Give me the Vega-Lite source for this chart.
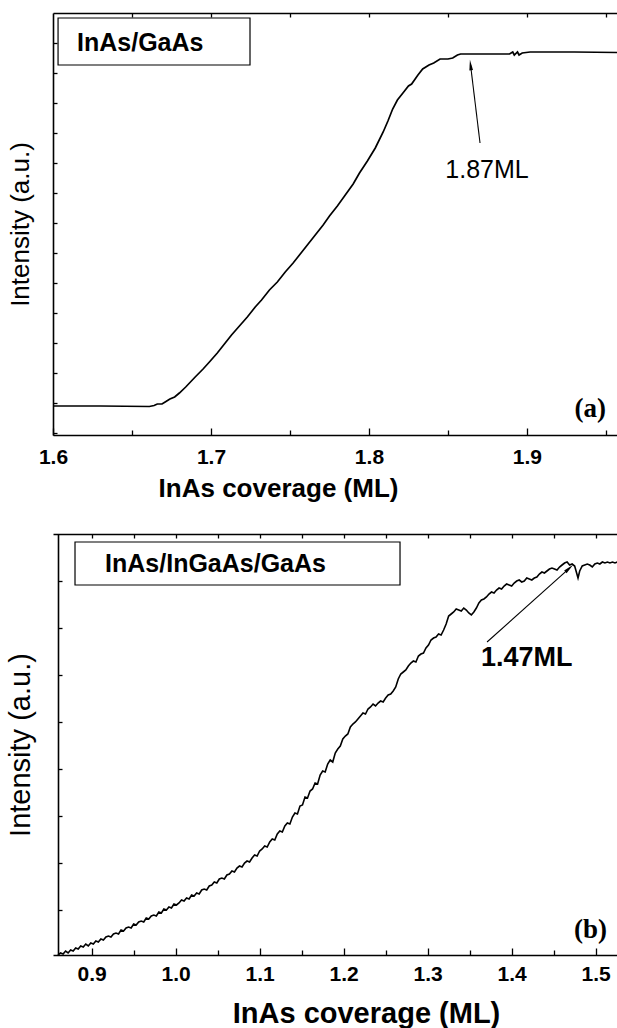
{
  "$schema": "https://vega.github.io/schema/vega-lite/v6.json",
  "padding": {"left": 6, "top": 12, "right": 0, "bottom": 0},
  "background": "white",
  "config": {
    "view": {"stroke": null},
    "font": "Liberation Sans",
    "axis": {"domainColor": "black", "domainWidth": 1.6, "tickColor": "black", "tickWidth": 1.3, "grid": false, "labelColor": "black", "titleColor": "black"}
  },
  "datasets": {
    "a": [
      {"x": 1.600, "y": 29}, {"x": 1.630, "y": 29}, {"x": 1.661, "y": 28.5}, {"x": 1.664, "y": 29.5}, {"x": 1.666, "y": 31},
      {"x": 1.669, "y": 31}, {"x": 1.671, "y": 33}, {"x": 1.674, "y": 36}, {"x": 1.677, "y": 38}, {"x": 1.680, "y": 42},
      {"x": 1.684, "y": 48}, {"x": 1.690, "y": 58}, {"x": 1.695, "y": 66}, {"x": 1.699, "y": 73}, {"x": 1.704, "y": 82},
      {"x": 1.709, "y": 92}, {"x": 1.713, "y": 100}, {"x": 1.718, "y": 109}, {"x": 1.723, "y": 118}, {"x": 1.728, "y": 128},
      {"x": 1.732, "y": 135}, {"x": 1.737, "y": 145}, {"x": 1.742, "y": 153}, {"x": 1.747, "y": 163}, {"x": 1.752, "y": 172},
      {"x": 1.756, "y": 180}, {"x": 1.761, "y": 190}, {"x": 1.766, "y": 200}, {"x": 1.771, "y": 210}, {"x": 1.775, "y": 219},
      {"x": 1.780, "y": 229}, {"x": 1.785, "y": 240}, {"x": 1.790, "y": 251}, {"x": 1.794, "y": 262}, {"x": 1.799, "y": 274},
      {"x": 1.804, "y": 287}, {"x": 1.809, "y": 303}, {"x": 1.812, "y": 314}, {"x": 1.815, "y": 326}, {"x": 1.818, "y": 335},
      {"x": 1.822, "y": 343}, {"x": 1.825, "y": 349}, {"x": 1.827, "y": 351}, {"x": 1.831, "y": 360}, {"x": 1.834, "y": 366},
      {"x": 1.838, "y": 370}, {"x": 1.841, "y": 372}, {"x": 1.845, "y": 376}, {"x": 1.850, "y": 376}, {"x": 1.853, "y": 377},
      {"x": 1.856, "y": 380}, {"x": 1.858, "y": 381}, {"x": 1.870, "y": 381}, {"x": 1.889, "y": 381}, {"x": 1.891, "y": 383},
      {"x": 1.892, "y": 380}, {"x": 1.894, "y": 383}, {"x": 1.895, "y": 380}, {"x": 1.897, "y": 382}, {"x": 1.902, "y": 383},
      {"x": 1.930, "y": 383}, {"x": 1.957, "y": 382.5}
    ],
    "b": [
      {"x": 0.860, "y": 0}, {"x": 0.863, "y": 2}, {"x": 0.866, "y": 1}, {"x": 0.869, "y": 4}, {"x": 0.872, "y": 2},
      {"x": 0.875, "y": 5}, {"x": 0.878, "y": 4}, {"x": 0.881, "y": 7}, {"x": 0.884, "y": 6}, {"x": 0.887, "y": 9},
      {"x": 0.890, "y": 8}, {"x": 0.893, "y": 11}, {"x": 0.896, "y": 9}, {"x": 0.899, "y": 12}, {"x": 0.902, "y": 11},
      {"x": 0.905, "y": 14}, {"x": 0.908, "y": 13}, {"x": 0.911, "y": 16}, {"x": 0.914, "y": 15}, {"x": 0.917, "y": 18},
      {"x": 0.920, "y": 19}, {"x": 0.923, "y": 18}, {"x": 0.926, "y": 21}, {"x": 0.929, "y": 22}, {"x": 0.932, "y": 21},
      {"x": 0.935, "y": 25}, {"x": 0.938, "y": 24}, {"x": 0.941, "y": 27}, {"x": 0.944, "y": 28}, {"x": 0.947, "y": 27},
      {"x": 0.950, "y": 31}, {"x": 0.953, "y": 30}, {"x": 0.956, "y": 33}, {"x": 0.959, "y": 34}, {"x": 0.962, "y": 33},
      {"x": 0.965, "y": 37}, {"x": 0.968, "y": 36}, {"x": 0.971, "y": 39}, {"x": 0.974, "y": 40}, {"x": 0.977, "y": 39},
      {"x": 0.980, "y": 43}, {"x": 0.983, "y": 42}, {"x": 0.986, "y": 46}, {"x": 0.989, "y": 45}, {"x": 0.992, "y": 48},
      {"x": 0.995, "y": 47}, {"x": 0.998, "y": 51}, {"x": 1.001, "y": 50}, {"x": 1.004, "y": 52}, {"x": 1.007, "y": 55},
      {"x": 1.010, "y": 54}, {"x": 1.013, "y": 57}, {"x": 1.016, "y": 56}, {"x": 1.019, "y": 60}, {"x": 1.022, "y": 59},
      {"x": 1.025, "y": 62}, {"x": 1.028, "y": 61}, {"x": 1.031, "y": 65}, {"x": 1.034, "y": 66}, {"x": 1.037, "y": 65},
      {"x": 1.040, "y": 69}, {"x": 1.043, "y": 70}, {"x": 1.046, "y": 73}, {"x": 1.049, "y": 72}, {"x": 1.052, "y": 76},
      {"x": 1.055, "y": 77}, {"x": 1.058, "y": 76}, {"x": 1.061, "y": 80}, {"x": 1.064, "y": 81}, {"x": 1.067, "y": 84},
      {"x": 1.070, "y": 83}, {"x": 1.073, "y": 87}, {"x": 1.076, "y": 89}, {"x": 1.079, "y": 88}, {"x": 1.082, "y": 92},
      {"x": 1.085, "y": 94}, {"x": 1.088, "y": 93}, {"x": 1.091, "y": 97}, {"x": 1.094, "y": 100}, {"x": 1.097, "y": 99},
      {"x": 1.100, "y": 104}, {"x": 1.103, "y": 106}, {"x": 1.106, "y": 109}, {"x": 1.109, "y": 108}, {"x": 1.112, "y": 113},
      {"x": 1.115, "y": 116}, {"x": 1.118, "y": 115}, {"x": 1.121, "y": 121}, {"x": 1.124, "y": 124}, {"x": 1.127, "y": 123},
      {"x": 1.130, "y": 129}, {"x": 1.133, "y": 132}, {"x": 1.136, "y": 131}, {"x": 1.139, "y": 138}, {"x": 1.142, "y": 142},
      {"x": 1.145, "y": 141}, {"x": 1.148, "y": 149}, {"x": 1.151, "y": 150}, {"x": 1.154, "y": 158}, {"x": 1.157, "y": 157},
      {"x": 1.160, "y": 164}, {"x": 1.163, "y": 166}, {"x": 1.166, "y": 172}, {"x": 1.169, "y": 171}, {"x": 1.172, "y": 180},
      {"x": 1.175, "y": 184}, {"x": 1.178, "y": 183}, {"x": 1.181, "y": 191}, {"x": 1.184, "y": 195}, {"x": 1.187, "y": 193},
      {"x": 1.190, "y": 202}, {"x": 1.193, "y": 206}, {"x": 1.196, "y": 209}, {"x": 1.199, "y": 216}, {"x": 1.202, "y": 219},
      {"x": 1.205, "y": 221}, {"x": 1.208, "y": 228}, {"x": 1.211, "y": 231}, {"x": 1.214, "y": 233}, {"x": 1.217, "y": 236},
      {"x": 1.220, "y": 239}, {"x": 1.223, "y": 242}, {"x": 1.226, "y": 241}, {"x": 1.229, "y": 246}, {"x": 1.232, "y": 248},
      {"x": 1.235, "y": 251}, {"x": 1.238, "y": 249}, {"x": 1.241, "y": 252}, {"x": 1.244, "y": 254}, {"x": 1.247, "y": 253},
      {"x": 1.250, "y": 257}, {"x": 1.253, "y": 260}, {"x": 1.256, "y": 261}, {"x": 1.259, "y": 264}, {"x": 1.262, "y": 268},
      {"x": 1.265, "y": 276}, {"x": 1.268, "y": 281}, {"x": 1.271, "y": 283}, {"x": 1.274, "y": 285}, {"x": 1.277, "y": 289},
      {"x": 1.280, "y": 292}, {"x": 1.283, "y": 294}, {"x": 1.286, "y": 293}, {"x": 1.289, "y": 299}, {"x": 1.292, "y": 301},
      {"x": 1.295, "y": 302}, {"x": 1.298, "y": 307}, {"x": 1.301, "y": 310}, {"x": 1.304, "y": 315}, {"x": 1.307, "y": 317},
      {"x": 1.310, "y": 318}, {"x": 1.313, "y": 321}, {"x": 1.316, "y": 320}, {"x": 1.319, "y": 325}, {"x": 1.322, "y": 331},
      {"x": 1.325, "y": 339}, {"x": 1.328, "y": 341}, {"x": 1.331, "y": 343}, {"x": 1.334, "y": 346}, {"x": 1.337, "y": 345},
      {"x": 1.340, "y": 344}, {"x": 1.343, "y": 347}, {"x": 1.346, "y": 345}, {"x": 1.349, "y": 342}, {"x": 1.352, "y": 340},
      {"x": 1.355, "y": 343}, {"x": 1.358, "y": 347}, {"x": 1.361, "y": 352}, {"x": 1.364, "y": 355}, {"x": 1.367, "y": 356},
      {"x": 1.370, "y": 358}, {"x": 1.373, "y": 361}, {"x": 1.376, "y": 363}, {"x": 1.379, "y": 362}, {"x": 1.382, "y": 365},
      {"x": 1.385, "y": 367}, {"x": 1.388, "y": 366}, {"x": 1.391, "y": 369}, {"x": 1.394, "y": 371}, {"x": 1.397, "y": 370},
      {"x": 1.400, "y": 369}, {"x": 1.403, "y": 372}, {"x": 1.406, "y": 374}, {"x": 1.409, "y": 375}, {"x": 1.412, "y": 373},
      {"x": 1.415, "y": 374}, {"x": 1.418, "y": 377}, {"x": 1.421, "y": 376}, {"x": 1.424, "y": 375}, {"x": 1.427, "y": 377},
      {"x": 1.430, "y": 378}, {"x": 1.433, "y": 381}, {"x": 1.436, "y": 383}, {"x": 1.439, "y": 382}, {"x": 1.442, "y": 384},
      {"x": 1.445, "y": 386}, {"x": 1.448, "y": 387}, {"x": 1.451, "y": 386}, {"x": 1.454, "y": 385}, {"x": 1.457, "y": 388},
      {"x": 1.460, "y": 390}, {"x": 1.463, "y": 392}, {"x": 1.466, "y": 393}, {"x": 1.469, "y": 390}, {"x": 1.472, "y": 391},
      {"x": 1.475, "y": 389}, {"x": 1.477, "y": 383}, {"x": 1.479, "y": 377}, {"x": 1.481, "y": 384}, {"x": 1.484, "y": 389},
      {"x": 1.487, "y": 390}, {"x": 1.490, "y": 391}, {"x": 1.493, "y": 390}, {"x": 1.496, "y": 388}, {"x": 1.499, "y": 391},
      {"x": 1.502, "y": 392}, {"x": 1.505, "y": 391}, {"x": 1.508, "y": 393}, {"x": 1.511, "y": 392}, {"x": 1.514, "y": 393},
      {"x": 1.517, "y": 392}, {"x": 1.520, "y": 393}, {"x": 1.523, "y": 392}, {"x": 1.526, "y": 393}
    ]
  },
  "spacing": 32,
  "vconcat": [
    {
      "width": 564,
      "height": 422,
      "layer": [
        {
          "data": {"name": "a"},
          "mark": {"type": "line", "color": "black", "strokeWidth": 1.7, "clip": true},
          "encoding": {
            "x": {"field": "x", "type": "quantitative", "scale": {"domain": [1.6, 1.957], "nice": false, "zero": false},
              "axis": {"orient": "bottom", "values": [1.6, 1.7, 1.8, 1.9], "format": ".1f", "tickSize": -7, "labelPadding": 18,
                "labelFont": "Liberation Sans", "labelFontWeight": "bold", "labelFontSize": 21, "labelFlush": false,
                "title": "InAs coverage (ML)", "titleFont": "Liberation Sans", "titleFontWeight": "bold", "titleFontSize": 26, "titlePadding": 8, "titleX": 225}},
            "y": {"field": "y", "type": "quantitative", "scale": {"domain": [0, 422], "nice": false, "zero": false},
              "axis": {"orient": "left", "values": [2, 32, 62, 92, 122, 152, 182, 212, 242, 272, 302, 332, 362, 392], "labels": false, "tickSize": -4,
                "title": "Intensity (a.u.)", "titleFont": "Liberation Sans", "titleFontWeight": "normal", "titleFontSize": 26, "titlePadding": 19}}
          }
        },
        {
          "data": {"name": "a"},
          "mark": {"type": "line", "opacity": 0},
          "encoding": {
            "x": {"field": "x", "type": "quantitative", "axis": {"orient": "top", "values": [1.65, 1.7, 1.75, 1.8, 1.85, 1.9, 1.95], "labels": false, "tickSize": -4, "title": null}},
            "y": {"field": "y", "type": "quantitative", "axis": null}
          }
        },
        {
          "data": {"name": "a"},
          "mark": {"type": "line", "opacity": 0},
          "encoding": {
            "x": {"field": "x", "type": "quantitative", "axis": {"orient": "bottom", "values": [1.65, 1.75, 1.85, 1.95], "labels": false, "domain": false, "tickSize": -5, "title": null}},
            "y": {"field": "y", "type": "quantitative", "axis": null}
          }
        },
        {
          "data": {"values": [{}]},
          "mark": {"type": "rect", "fill": "white", "stroke": "black", "strokeWidth": 1.2},
          "encoding": {
            "x": {"datum": 1.6032, "axis": null}, "x2": {"datum": 1.7247},
            "y": {"datum": 417, "axis": null}, "y2": {"datum": 370}
          }
        },
        {
          "data": {"values": [{}]},
          "mark": {"type": "text", "text": "InAs/GaAs", "font": "Liberation Sans", "fontWeight": "bold", "fontSize": 25, "align": "left", "baseline": "middle"},
          "encoding": {"x": {"datum": 1.6152, "axis": null}, "y": {"datum": 392, "axis": null}}
        },
        {
          "data": {"values": [{}]},
          "mark": {"type": "rule", "color": "black", "strokeWidth": 1.1},
          "encoding": {"x": {"datum": 1.8703, "axis": null}, "y": {"datum": 292, "axis": null}, "x2": {"datum": 1.8643}, "y2": {"datum": 370}}
        },
        {
          "data": {"values": [{}]},
          "mark": {"type": "point", "shape": "M0,-1L0.35,1L-0.35,1Z", "filled": true, "color": "black", "opacity": 1, "size": 110, "angle": -7},
          "encoding": {"x": {"datum": 1.8643, "axis": null}, "y": {"datum": 370, "axis": null}}
        },
        {
          "data": {"values": [{}]},
          "mark": {"type": "text", "text": "1.87ML", "font": "Liberation Sans", "fontSize": 25, "align": "center", "baseline": "middle"},
          "encoding": {"x": {"datum": 1.8747, "axis": null}, "y": {"datum": 265, "axis": null}}
        },
        {
          "data": {"values": [{}]},
          "mark": {"type": "text", "text": "(a)", "font": "Liberation Serif", "fontWeight": "bold", "fontSize": 27, "align": "right", "baseline": "middle"},
          "encoding": {"x": {"datum": 1.950, "axis": null}, "y": {"datum": 26, "axis": null}}
        }
      ],
      "resolve": {"axis": {"x": "independent", "y": "independent"}}
    },
    {
      "width": 564,
      "height": 421,
      "layer": [
        {
          "data": {"name": "b"},
          "mark": {"type": "line", "color": "black", "strokeWidth": 1.6, "clip": true},
          "encoding": {
            "x": {"field": "x", "type": "quantitative", "scale": {"domain": [0.854, 1.5254], "nice": false, "zero": false},
              "axis": {"orient": "bottom", "values": [0.9, 1.0, 1.1, 1.2, 1.3, 1.4, 1.5], "format": ".1f", "tickSize": -7, "labelPadding": 15,
                "labelFont": "Liberation Sans", "labelFontWeight": "bold", "labelFontSize": 21, "labelFlush": false,
                "title": "InAs coverage (ML)", "titleFont": "Liberation Sans", "titleFontWeight": "bold", "titleFontSize": 29, "titlePadding": 15, "titleX": 313}},
            "y": {"field": "y", "type": "quantitative", "scale": {"domain": [0, 421], "nice": false, "zero": false},
              "axis": {"orient": "left", "offset": -5, "values": [45, 92, 139, 186, 233, 280, 327, 374], "labels": false, "tickSize": -4,
                "title": "Intensity (a.u.)", "titleFont": "Liberation Sans", "titleFontWeight": "normal", "titleFontSize": 29, "titlePadding": 22}}
          }
        },
        {
          "data": {"name": "b"},
          "mark": {"type": "line", "opacity": 0},
          "encoding": {
            "x": {"field": "x", "type": "quantitative", "axis": {"orient": "top", "values": [0.9, 0.95, 1.0, 1.05, 1.1, 1.15, 1.2, 1.25, 1.3, 1.35, 1.4, 1.45, 1.5], "labels": false, "tickSize": -4, "title": null}},
            "y": {"field": "y", "type": "quantitative", "axis": null}
          }
        },
        {
          "data": {"name": "b"},
          "mark": {"type": "line", "opacity": 0},
          "encoding": {
            "x": {"field": "x", "type": "quantitative", "axis": {"orient": "bottom", "values": [0.95, 1.05, 1.15, 1.25, 1.35, 1.45], "labels": false, "domain": false, "tickSize": -5, "title": null}},
            "y": {"field": "y", "type": "quantitative", "axis": null}
          }
        },
        {
          "data": {"values": [{}]},
          "mark": {"type": "rect", "fill": "white", "stroke": "black", "strokeWidth": 1.2},
          "encoding": {
            "x": {"datum": 0.8802, "axis": null}, "x2": {"datum": 1.2671},
            "y": {"datum": 413, "axis": null}, "y2": {"datum": 370}
          }
        },
        {
          "data": {"values": [{}]},
          "mark": {"type": "text", "text": "InAs/InGaAs/GaAs", "font": "Liberation Sans", "fontWeight": "bold", "fontSize": 25, "align": "left", "baseline": "middle"},
          "encoding": {"x": {"datum": 0.916, "axis": null}, "y": {"datum": 391, "axis": null}}
        },
        {
          "data": {"values": [{}]},
          "mark": {"type": "rule", "color": "black", "strokeWidth": 1.1},
          "encoding": {"x": {"datum": 1.3707, "axis": null}, "y": {"datum": 313, "axis": null}, "x2": {"datum": 1.4686}, "y2": {"datum": 386.7}}
        },
        {
          "data": {"values": [{}]},
          "mark": {"type": "point", "shape": "M0,-1L0.35,1L-0.35,1Z", "filled": true, "color": "black", "opacity": 1, "size": 110, "angle": 48},
          "encoding": {"x": {"datum": 1.4686, "axis": null}, "y": {"datum": 386.7, "axis": null}}
        },
        {
          "data": {"values": [{}]},
          "mark": {"type": "text", "text": "1.47ML", "font": "Liberation Sans", "fontWeight": "bold", "fontSize": 27, "align": "center", "baseline": "middle"},
          "encoding": {"x": {"datum": 1.418, "axis": null}, "y": {"datum": 297, "axis": null}}
        },
        {
          "data": {"values": [{}]},
          "mark": {"type": "text", "text": "(b)", "font": "Liberation Serif", "fontWeight": "bold", "fontSize": 27, "align": "right", "baseline": "middle"},
          "encoding": {"x": {"datum": 1.5135, "axis": null}, "y": {"datum": 25, "axis": null}}
        }
      ],
      "resolve": {"axis": {"x": "independent", "y": "independent"}}
    }
  ]
}
